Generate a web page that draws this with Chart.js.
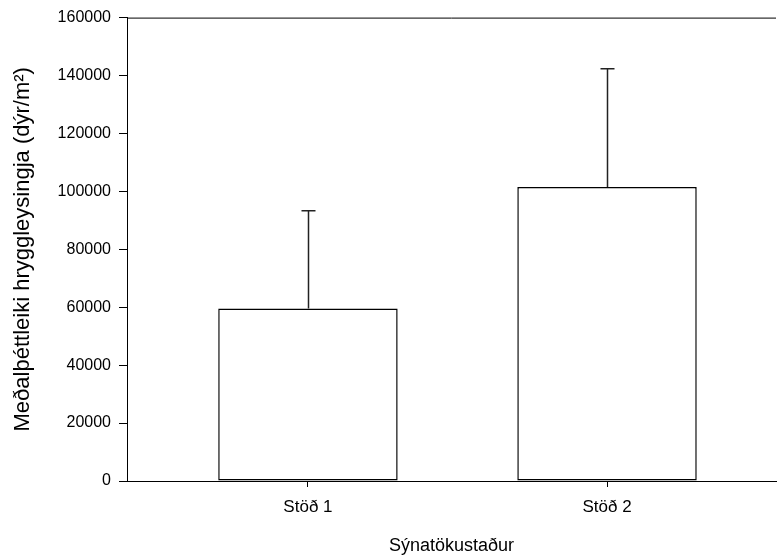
<!DOCTYPE html>
<html>
<head>
<meta charset="utf-8">
<script src="https://cdn.jsdelivr.net/npm/chart.js@4/dist/chart.umd.min.js"></script>
<style>
  html, body { margin: 0; padding: 0; background: #fff; }
  #wrap { width: 780px; height: 558px; }
</style>
</head>
<body>
<div id="wrap"><canvas id="barChart"></canvas></div>
<script>
// gögn lesin af myndinni
const categories = ['Stöð 1', 'Stöð 2'];
const means = [59600, 101500];
const upperErr = [93300, 142300];
const yTicks = [0, 20000, 40000, 60000, 80000, 100000, 120000, 140000, 160000];

const fontFam = '"Liberation Sans", Arial, sans-serif';

// villustikur (bara upp) og efri lína rammans
const errorBars = {
    id: 'errorBars',
    afterDatasetsDraw(chart) {
        const ctx = chart.ctx;
        const x = chart.scales.x;
        const y = chart.scales.y;
        const area = chart.chartArea;
        ctx.save();
        ctx.strokeStyle = '#000';
        ctx.lineWidth = 1;
        ctx.beginPath();
        ctx.moveTo(area.left, area.top + 0.5);
        ctx.lineTo(area.right, area.top + 0.5);
        ctx.stroke();

        ctx.strokeStyle = '#222';
        ctx.lineWidth = 1.5;
        for (let i = 0; i < means.length; i++) {
            const px = Math.round(x.getPixelForValue(i + 1)) + 0.5;
            const y0 = y.getPixelForValue(means[i]);
            const y1 = y.getPixelForValue(upperErr[i]);
            ctx.beginPath();
            ctx.moveTo(px, y0);
            ctx.lineTo(px, y1);
            ctx.moveTo(px - 7, y1);
            ctx.lineTo(px + 7, y1);
            ctx.stroke();
        }
        ctx.restore();
    }
};

new Chart(document.getElementById('barChart').getContext('2d'), {
    type: 'bar',
    data: {
        datasets: [{
            data: means.map((v, i) => ({ x: i + 1, y: v })),
            backgroundColor: '#ffffff',
            borderColor: '#000000',
            borderWidth: 1.5,
            borderSkipped: false,
            barPercentage: 0.6,
            categoryPercentage: 1
        }]
    },
    options: {
        responsive: true,
        maintainAspectRatio: false,
        animation: false,
        layout: { padding: { top: 17, right: 4, left: 6, bottom: 0 } },
        plugins: {
            legend: { display: false },
            tooltip: { enabled: false }
        },
        scales: {
            x: {
                type: 'linear',
                offset: false,
                min: 0.395,
                max: 2.565,
                afterBuildTicks: s => { s.ticks = [{ value: 1 }, { value: 2 }]; },
                afterFit: s => { s.height = 77; },
                border: { color: '#000', width: 1 },
                grid: { offset: false, drawOnChartArea: false, tickLength: 6, tickColor: '#000' },
                ticks: {
                    color: '#000',
                    font: { family: fontFam, size: 17 },
                    padding: 10,
                    maxRotation: 0,
                    callback: v => categories[v - 1] || ''
                },
                title: {
                    display: true,
                    text: 'Sýnatökustaður',
                    color: '#000',
                    font: { family: fontFam, size: 18 },
                    padding: { top: 18, bottom: 1 }
                }
            },
            y: {
                min: 0,
                max: 160000,
                afterBuildTicks: s => { s.ticks = yTicks.map(v => ({ value: v })); },
                afterFit: s => { s.width = 121; },
                border: { color: '#000', width: 1 },
                grid: { drawOnChartArea: false, tickLength: 8, tickColor: '#000' },
                ticks: {
                    color: '#000',
                    font: { family: fontFam, size: 16 },
                    padding: 8,
                    callback: v => String(v)
                },
                title: {
                    display: true,
                    text: 'Meðalþéttleiki hryggleysingja (dýr/m²)',
                    color: '#000',
                    font: { family: fontFam, size: 22 },
                    padding: { bottom: 0 }
                }
            }
        }
    },
    plugins: [errorBars]
});
</script>
</body>
</html>
